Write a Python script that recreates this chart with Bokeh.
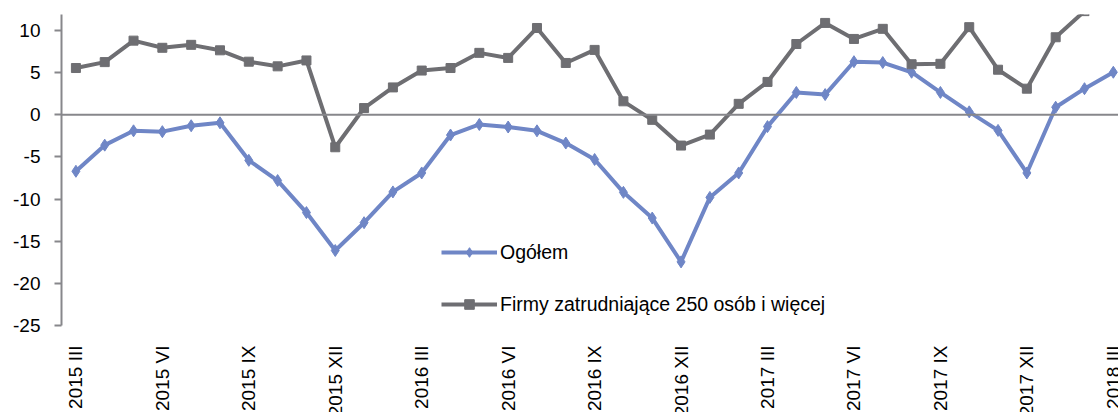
import math
from bokeh.plotting import figure
from bokeh.models import Range1d, FixedTicker, Span, Legend, LegendItem
from bokeh.core.properties import value
from bokeh.embed import file_html
from bokeh.resources import INLINE

months = []
roman = ["I", "II", "III", "IV", "V", "VI", "VII", "VIII", "IX", "X", "XI", "XII"]
for y in (2015, 2016, 2017, 2018):
    for m in roman:
        months.append(f"{y} {m}")
months = months[2:39]  # 2015 III .. 2018 III

ogolem = [-6.7, -3.6, -1.9, -2.0, -1.3, -0.95, -5.4, -7.8, -11.6, -16.1, -12.8, -9.15,
          -6.9, -2.4, -1.15, -1.45, -1.9, -3.35, -5.3, -9.2, -12.25, -17.45, -9.8, -6.9,
          -1.4, 2.65, 2.4, 6.3, 6.2, 5.05, 2.65, 0.35, -1.85, -6.9, 0.9, 3.1, 5.05]
firmy = [5.55, 6.25, 8.8, 7.95, 8.3, 7.65, 6.3, 5.75, 6.45, -3.85, 0.8, 3.25,
         5.25, 5.55, 7.35, 6.75, 10.3, 6.15, 7.7, 1.6, -0.6, -3.65, -2.35, 1.3,
         3.9, 8.4, 10.9, 9.0, 10.2, 6.0, 6.05, 10.4, 5.35, 3.1, 9.2, 12.3, 13.5]

y_ticks = [-25, -20, -15, -10, -5, 0, 5, 10]
x = list(range(len(months)))
label_idx = [i for i in x if i % 3 == 0]
label_txt = [months[i] for i in label_idx]

FONT = "Liberation Sans"
BLUE = "#6f86c6"
GRAY = "#6e6e72"
AXIS = "#87878b"

Y_TOP = 11.9
Y_MIN = min(y_ticks)
# extra room below the value axis for the rotated category labels
Y_BOTTOM = Y_MIN - 10.32

p = figure(width=1118, height=412, output_backend="svg", toolbar_location=None,
           x_range=Range1d(-0.5, 36.18), y_range=Range1d(Y_BOTTOM, Y_TOP),
           min_border_left=61, min_border_right=0, min_border_top=14, min_border_bottom=0)
p.outline_line_color = None
p.xgrid.visible = False
p.ygrid.visible = False
p.xaxis.visible = False

p.add_layout(Span(location=0, dimension="width", line_color=AXIS, line_width=2))

l1 = p.line(x, ogolem, line_color=BLUE, line_width=4)
s1 = p.scatter(x, ogolem, marker="diamond", size=12, fill_color=BLUE, line_color=BLUE)
l2 = p.line(x, firmy, line_color=GRAY, line_width=4)
s2 = p.scatter(x, firmy, marker="square", size=9, fill_color=GRAY, line_color=GRAY)

yax = p.yaxis[0]
yax.ticker = FixedTicker(ticks=y_ticks)
yax.bounds = (Y_MIN, Y_TOP)
yax.major_label_overrides = {t: str(t) for t in y_ticks}
yax.axis_line_color = AXIS
yax.axis_line_width = 2
yax.major_tick_line_color = AXIS
yax.major_tick_line_width = 2
yax.major_tick_in = 0
yax.major_tick_out = 7
yax.minor_tick_line_color = None
yax.major_label_standoff = 14
yax.major_label_text_font = FONT
yax.major_label_text_font_size = "19px"
yax.major_label_text_color = "black"

# category labels, rotated, hanging below the value axis
p.text(x=label_idx, y=[Y_MIN] * len(label_idx), text=label_txt,
       angle=math.pi / 2, text_align="right", text_baseline="middle", y_offset=20,
       text_font=value(FONT), text_font_size=value("19px"), text_color="black")

legend = Legend(items=[LegendItem(label="Ogółem", renderers=[l1, s1]),
                       LegendItem(label="Firmy zatrudniające 250 osób i więcej", renderers=[l2, s2])],
                location=(380, 96), padding=0, margin=0, spacing=28,
                glyph_width=56, glyph_height=24, label_height=24, label_standoff=3,
                border_line_color=None, background_fill_alpha=0,
                label_text_font=FONT, label_text_font_size="19.5px", label_text_color="black")
p.add_layout(legend)

open("out.html", "w").write(file_html(p, INLINE))
